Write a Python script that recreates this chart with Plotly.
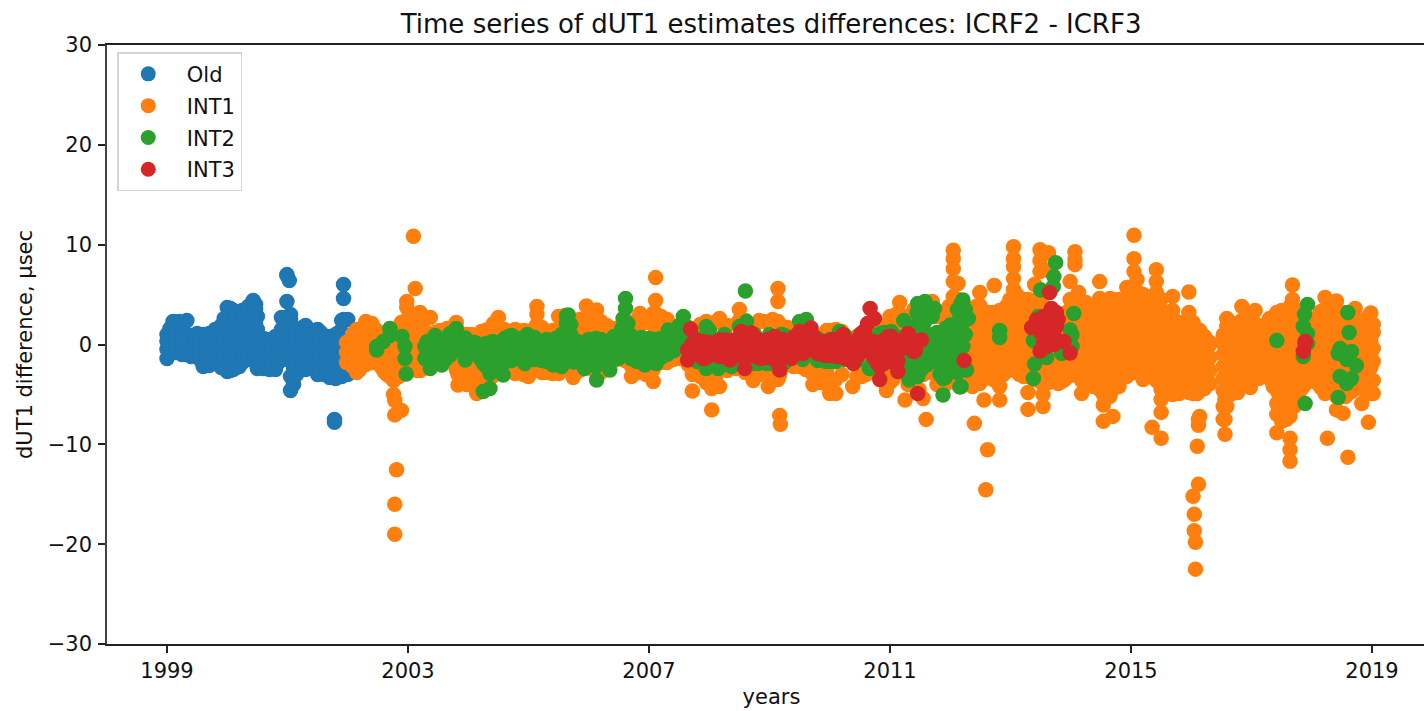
import plotly.graph_objects as go

CHART_TITLE = "Time series of dUT1 estimates differences: ICRF2 - ICRF3"
X_LABEL = "years"
Y_LABEL = "dUT1 difference, μsec"
x_ticks = [1999, 2003, 2007, 2011, 2015, 2019]
y_ticks = [-30, -20, -10, 0, 10, 20, 30]

# Each entry: (year, [dUT1 differences read at about that year])
old_cols = [
 (1999.0,[-1.4,-0.5,0.3,1.0]),(1999.1,[-0.6,0.2,1.2,1.8,2.3]),(1999.2,[-0.8,0.5,2.3]),
 (1999.33,[-1.0,0,1.0,2.4]),(1999.4,[-1.2,-0.2,0.9]),(1999.5,[-0.5,0.5,1.1]),
 (1999.6,[-2.2,-1.2,0,1.0]),(1999.7,[-2.1,-1,0.2,1.1]),(1999.8,[-1.2,0,1.5]),
 (1999.9,[-2.3,-1,0.5,1.9]),(2000.0,[-2.7,-1.2,1,2.6,3.7]),(2000.1,[-2.5,-1.3,0.5,2,3.4]),
 (2000.2,[-2.2,-0.8,1,2.5,3.2]),(2000.3,[-1,0.5,2,3.5]),(2000.43,[-0.5,1,3,4.4]),
 (2000.5,[-2.4,-1.2,-0.3,1.5,2.8]),(2000.6,[-2.4,-1.2,0,0.6]),(2000.7,[-2.5,-1,0.4]),
 (2000.8,[-2.5,-1,-0.2,0.8]),(2000.9,[-1.2,0.5,1.5,2.7]),(2000.99,[-1.5,0,1.7,4.3,6.9,7.0]),
 (2001.03,[6.4]),(2001.05,[-4.6,-3.2,-1.5,0.5,2.5,3.0]),(2001.1,[-4,-2.5,-1,1.3]),
 (2001.2,[-2,-1,-0.5]),(2001.3,[-2.5,-1.2,1.9]),(2001.4,[-2.2,-1,0.8,1.0]),
 (2001.5,[-3,-1.8,-0.5,1.5]),(2001.6,[-3,-1.5,0,0.9]),(2001.7,[-3.3,-1.8,-0.5,0.8]),
 (2001.78,[-7.5,-7.8]),(2001.8,[-3.4,-1.5,0,1.0]),(2001.9,[-3.2,-1,0.5,2.4]),
 (2001.93,[6.0,4.6,2.5]),(2002.0,[-3.0,-1.3,2.5]),
 (1999.05,[-0.8,0,0.8,1.6]),(1999.15,[-0.8,0.3,1.4,2.1]),(1999.25,[-1,0,1.2]),(1999.45,[-1,0,0.8]),
 (1999.55,[-1.5,-0.3,0.7]),(1999.65,[-1.7,-0.5,0.7]),(1999.75,[-1.6,-0.4,0.8]),(1999.85,[-1.8,-0.3,0.9]),
 (1999.95,[-2.4,-1,0.3,1.5,2.6]),(2000.05,[-2.6,-1,0,1.5,2.8,3.6]),(2000.15,[-2.3,-1,0,1.4,2.8]),
 (2000.25,[-1.8,-0.4,1.2,2.8,3.4]),(2000.35,[-1.5,-0.2,1.3,2.5,3.8]),(2000.47,[-1,0.5,2,3.5,4]),
 (2000.55,[-1.8,-0.6,0.4]),(2000.65,[-2,-0.5,0.5]),(2000.75,[-2,-0.5,0.5]),(2000.85,[-1.8,-0.4,0.7]),
 (2000.95,[-1.4,0,1,2.2]),(2001.15,[-3,-1.7,-0.5,0.5,1.3]),(2001.25,[-2,-0.5,0.8,1.7]),
 (2001.35,[-2.2,-0.8,0.5,1.5]),(2001.45,[-2,-0.8,0.5,1.4]),(2001.55,[-2.6,-1,0.4,1.2]),
 (2001.65,[-2.5,-1,0.5]),(2001.75,[-2.8,-1,0.5]),(2001.85,[-3,-1.4,0,1.2]),(2001.95,[-2.4,-0.5,1]),
]
int1_cols = [
 (2001.98,[-1.8,-0.8,0.2]),(2002.08,[-2.2,-1,0,1]),(2002.15,[-2.8,-1.5,-0.5,0.5,1.5]),
 (2002.3,[-2,-0.5,1,2.3]),(2002.4,[-1.8,-0.3,1.2,2.1]),(2002.48,[-1.5,0,1.4]),
 (2002.6,[-2.7,-1.5,-0.3,0.8]),(2002.7,[-3.2,-2,-0.8]),(2002.76,[-5.0,-3.6,-2,-0.5]),
 (2002.78,[-19,-16,-7.05,-5.6]),(2002.81,[-12.55,-3.3]),(2002.89,[-6.6,-2.5,0,1.5,2.2]),
 (2002.98,[-1,1,2.5,3.7,4.3]),(2003.09,[-2.4,-0.5,1,2.5,10.85]),(2003.12,[3,5.6]),
 (2003.2,[-2.6,-1,0.5,2,3.2]),(2003.3,[-2,-0.5,1.2,2.6]),(2003.37,[-0.5,1,2.7]),
 (2003.53,[0,1.4]),(2003.65,[-1,0.5,1.6]),(2003.8,[-2.5,-1.4,1,2.2]),
 (2003.83,[-4.05,-3]),(2003.97,[-4,-2.8,-1.4,1]),(2004.14,[-4.9,-3.5,-2,-0.5,0.8]),
 (2004.3,[-3,0.5,1.45]),(2004.42,[-2.5,1,2.1]),(2004.5,[-2,1.5,2.7]),
 (2004.72,[-2.7,1.2]),(2004.85,[-2.7,-1.5,1.3]),(2005.0,[-3.2,-2,1.3]),
 (2005.14,[-2.5,1,2,3,3.8]),(2005.3,[-2.8,1.3]),(2005.5,[-2.9,1.5,2.8]),
 (2005.6,[-2.5,2.9]),(2005.74,[-3.3,-2,1.4]),(2005.96,[1.2,2.5,3.85]),
 (2006.13,[1.3,2.4,3.45]),(2006.3,[-2,1.2,1.9]),(2006.45,[-1.5,1.6]),
 (2006.71,[-3.2,-2.2,2]),(2006.85,[-2.4,2,3.1]),(2007.07,[-3.7,-2.5,2,3.1]),
 (2007.11,[1.5,3.1,4.4,6.7]),(2007.2,[-1.8,2.8]),(2007.4,[-1.5]),
 (2007.72,[-4.65,-3]),(2007.85,[-3.2,-2.5,2]),(2007.95,[-3.8,2.3]),
 (2008.04,[-6.55,-4.4,-3]),(2008.17,[-4.2,2.6]),(2008.5,[2.4,3.5]),
 (2008.73,[-3.6,-2.6,1.6]),(2008.9,[-3,2.3]),(2008.98,[-4.2,-3]),
 (2009.14,[-3.5,2.3,4.3,5.6]),(2009.17,[-7.1,-3]),(2009.18,[-8]),
 (2009.3,[-2,1.7]),(2009.5,[-2.2]),(2009.72,[-4,-3,-2]),(2009.85,[-3.8,-2.5]),
 (2010.0,[-4.9,-3.5,1.4]),(2010.1,[-4.9,-3.5,1.5]),(2010.38,[-4.2]),(2010.53,[-3.2,-2]),
 (2010.66,[-1.5,1]),(2010.94,[-4.6,-3,-1,2]),(2011.05,[-3.5,1.8]),
 (2011.16,[-2,1.5,3,4.2]),(2011.25,[-5.55,-3]),(2011.4,[-2.5,1.5,3.5]),
 (2011.55,[-5.4,-3,4]),(2011.6,[-7.5]),(2011.7,[-2.8,1,3,4.3]),(2011.85,[-2.5,0,3]),
 (2011.98,[-2.5,0.5,2,3.8]),(2012.05,[-2,0,2,3.5,4.8,6.3,7.6,8.6,9.45]),
 (2012.13,[-4,-3,-1.5,0,1.5,3,4.5,6.1]),
 (2012.25,[-3.9,-2.6,-1.3,0,1.3,2.6,3.6]),(2012.37,[-4.2,-3,-1.7,-0.4,0.9,2.2,3.6]),
 (2012.4,[-7.9]),(2012.49,[-3.9,-2.6,-1.3,0,1.3,2.6,3.9,5.2]),
 (2012.56,[-5.55,-3.4,-2,-0.7,0.7,2,3.3]),(2012.59,[-14.55]),(2012.62,[-10.55]),
 (2012.71,[-3.5,-2.2,-0.9,0.4,1.7,3.2]),(2012.73,[5.9]),
 (2012.82,[-5.55,-4.2,-2.9,-1.6,-0.3,1,2.3,3.4]),(2012.93,[-2.7,-1.4,-0.1,1.2,2.5,3.8]),
 (2013.05,[-2.2,-0.9,0.4,1.7,3,4.5,5.5,6.6,7.8,8.6,9.8]),
 (2013.15,[-3,-1.7,-0.4,0.9,2.2,3.5,4.6]),(2013.29,[-6.5,-4.8,-3.2,-1.9,-0.6,0.7,2,3.3,4.5]),
 (2013.4,[-3.5,-2.2,-0.9,0.4,1.7,3,4.2,6]),(2013.49,[-3.7,-2.4,-1.1,0.2,1.5,2.8,4.2,5.5,7.3,8.4,9.5]),
 (2013.54,[-6.2,-5,-3.9,-2.6,-1.3,0,1.3,2.6,3.9]),(2013.63,[-3.8,-2.5,-1.2,0.1,1.4,2.7,7.4,9.2]),
 (2013.79,[-3.9,-2.6,-1.3,0,1.3,2.5]),(2013.9,[-3.5,-2.2,-0.9,0.4,1.7,3]),
 (2013.99,[-3.05,-1.8,-0.5,0.8,2.1,3.4,4.5,6.3]),(2014.07,[-3,-1.7,-0.4,0.9,2.2,3.5,8,8.5,9.3]),
 (2014.13,[-3.2,-2,-0.7,0.6,1.9,3.2,4.5,5.2]),(2014.18,[-4.9,-3.6,-2.3,-1,0.3,1.6,2.9]),
 (2014.3,[-3.9,-2.6,-1.3,0,1.3,2.6,3.6]),(2014.37,[-4.2,-2.9,-1.6,-0.3,1,2.3,3.8]),
 (2014.48,[-4.5,-3.2,-1.9,-0.6,0.7,2,3.3,4.6,6.3]),(2014.54,[-7.7,-6.05,-5,-3.7,-2.4,-1.1,0.2,1.5,2.8,4.2]),
 (2014.65,[-5.2,-3.9,-2.6,-1.3,0,1.3,2.6,3.9,4.6]),(2014.7,[-7.2,-4.5,-3.2,-1.9,-0.6,0.7,2,3.3,4.5]),
 (2014.8,[-4.2,-2.9,-1.6,-0.3,1,2.3,3.6,4.5]),(2014.93,[-3.2,-1.9,-0.6,0.7,2,3.3,4.5,5.7]),
 (2015.05,[-2.8,-1.5,-0.2,1.1,2.4,3.7,5,7.3,8.6,10.95]),(2015.1,[-2.5,-1.2,0.1,1.4,2.7,4,5.3,6.5]),
 (2015.2,[-3.5,-2.2,-0.9,0.4,1.7,3,4.3,5]),(2015.35,[-8.3,-3,-1.7,-0.4,0.9,2.2,3.5,4.8]),
 (2015.42,[-3.6,-2.3,-1,0.3,1.6,2.9,4.2,5.2,6.3,7.5]),(2015.5,[-9.4,-6.8,-5.5,-4.5,-3.2,-1.9,-0.6,0.7,2,3.3,4.5]),
 (2015.6,[-4.6,-3.3,-2,-0.7,0.6,1.9,3.2]),(2015.69,[-5,-3.8,-2.5,-1.2,0.1,1.4,2.7,3.4,4.8]),
 (2015.8,[-4.9,-3.6,-2.3,-1,0.3,1.6,2.2]),(2015.92,[-4.4,-3.1,-1.8,-0.5,0.8,2.1]),
 (2015.96,[-4.8,-3.4,-2,-0.6,0.8,2.2,3.2,5.25]),(2016.03,[-15.2,-4.9,-3.5,-2.2,-0.9,0.4,1.7,2.2]),
 (2016.05,[-18.65,-17]),(2016.07,[-22.5,-19.8]),(2016.1,[-10.2,-4.9,-3.6,-2.3,-1,0.3,1.5]),
 (2016.12,[-14,-8.1,-7.5]),(2016.14,[-7.2,-4.6,-3.3,-2,-0.7,0.6,1.4]),
 (2016.22,[-4.4,-3.1,-1.8,-0.5,0.8]),(2016.31,[-3.9,-2.6,-1.3,0,0.2]),
 (2016.53,[-7.5,-6.2,-4.6,-3.4,-2.2,-1,0.1,0.95]),(2016.56,[-9,-7.5,-5.5]),
 (2016.59,[-6.2,-4.6,-3.3,-2,-0.7,0.6,1.8,2.6]),(2016.7,[-4.4,-3.1,-1.8,-0.5,0.8,2.1]),
 (2016.84,[-4.2,-2.9,-1.6,-0.3,1,2.4,3.8]),(2016.98,[-4.3,-3,-1.7,-0.4,0.9,1.8]),
 (2017.06,[-3.1,-1.8,-0.5,0.8,2.1,3.4]),(2017.18,[-3,-1.7,-0.4,0.9,1.8]),
 (2017.3,[-3.4,-2.1,-0.8,0.5,1.8,2.6]),(2017.42,[-8.85,-7,-5.9,-4.6,-3.3,-2,-0.7,0.6,1.9,3.2]),
 (2017.5,[-7.7,-6.3,-5,-3.7,-2.4,-1.1,0.2,1.5,2.8,3.4]),(2017.58,[-7.5,-6.2,-4.9,-3.6,-2.3,-1,0.3,1.6,2.9]),
 (2017.64,[-11.7,-10.55,-9.4,-7.2,-5.9,-4.6,-3.3,-2,-0.7,0.6,1.9,3.2,3.8]),(2017.68,[4.5,5.95]),
 (2017.76,[-5.5,-4.2,-2.9,-1.6,-0.3,1,2.3,3.4]),(2017.86,[-4.2,-2.9,-1.6,-0.3,1,2.3]),
 (2017.97,[-3.5,-2.2,-0.9,0.4,1.7,2.5]),(2018.08,[-3.8,-2.5,-1.2,0.1,1.4,2.7]),
 (2018.22,[-4.9,-3.6,-2.3,-1,0.3,1.6,3.2,4.7]),(2018.26,[-9.4]),(2018.32,[-4.5,-3.2,-1.9,-0.6,0.7,2,3.2]),
 (2018.41,[-6.55,-5.2,-3.9,-2.6,-1.3,0,1.3,2.6,4.35]),(2018.52,[-6.9,-5.2,-3.9,-2.6,-1.3,0,1.3,2.6,3.2]),
 (2018.6,[-11.3,-4.9,-3.6,-2.3,-1,0.3,1.6,3]),(2018.72,[-4.4,-3.1,-1.8,-0.5,0.8,2.1,3.6]),
 (2018.83,[-5.9,-4.2,-2.9,-1.6,-0.3,1,1.8]),(2018.94,[-7.8,-4.6,-3.3,-2,-0.7,0.6,1.9,2.8]),
 (2018.98,[-4.9,-3.6,-2.3,-1,0.3,1.6,3.15]),(2019.02,[-4.9,-3.6,-1.7,-0.4,1.2,2]),
 (2012.31,[-3.4,-2.1,-0.8,0.5,1.8,3]),(2012.43,[-3.6,-2.3,-1,0.3,1.6,2.9,3.8]),(2012.65,[-3,-1.6,-0.2,1,2.4,3.2]),
 (2012.77,[-3.5,-2.2,-0.9,0.4,1.7,3]),(2012.88,[-3,-1.8,-0.5,0.8,2,3.4]),(2012.99,[-2.2,-1,0.3,1.6,2.9,4.5]),
 (2013.1,[-2.7,-1.4,-0.1,1.2,2.5,3.8,5]),(2013.22,[-3.2,-2,-0.7,0.6,1.9,3.2,4.5]),(2013.35,[-3.3,-2,-0.7,0.6,1.9,3.2,4.4]),
 (2013.72,[-3.6,-2.3,-1,0.3,1.6,2.9]),(2013.85,[-3.7,-2.4,-1.1,0.2,1.5,2.6]),(2013.95,[-3.2,-1.9,-0.6,0.7,2,3.3]),
 (2014.25,[-3.4,-2.1,-0.8,0.5,1.8,3.1,4.2]),(2014.43,[-4,-2.7,-1.4,-0.1,1.2,2.5,3.8]),
 (2016.65,[-5,-3.7,-2.4,-1.1,0.2,1.5]),(2016.77,[-4.8,-3.5,-2.2,-0.9,0.4,1.7]),(2016.91,[-3.8,-2.5,-1.2,0.1,1.4,2.7]),
 (2017.12,[-3.4,-2.1,-0.8,0.5,1.7]),(2017.24,[-3.1,-1.8,-0.5,0.8,2]),(2017.36,[-4.2,-2.9,-1.6,-0.3,1,2.3]),
 (2017.46,[-5,-3.7,-2.4,-1.1,0.2,1.5,3]),(2017.54,[-6,-4.7,-3.4,-2.1,-0.8,0.5,1.8,3.1]),(2017.71,[-6.2,-4.9,-3.6,-2.3,-1,0.3,1.6,2.9]),
 (2017.81,[-4.6,-3.3,-2,-0.7,0.6,1.9,3.2]),(2017.92,[-3.8,-2.5,-1.2,0.1,1.4,2.6]),(2018.02,[-3.6,-2.3,-1,0.3,1.6]),
 (2018.15,[-4.3,-3,-1.7,-0.4,0.9,2.2,3.3]),(2018.28,[-4,-2.7,-1.4,-0.1,1.2,2.5,3.6]),(2018.37,[-4.8,-3.5,-2.2,-0.9,0.4,1.7,3]),
 (2018.47,[-5,-3.7,-2.4,-1.1,0.2,1.5,2.8]),(2018.56,[-5.2,-3.9,-2.6,-1.3,0,1.3,2.6]),(2018.66,[-4.7,-3.4,-2.1,-0.8,0.5,1.8,3.1]),
 (2018.78,[-4.2,-2.9,-1.6,-0.3,1,2.3]),(2018.89,[-4.7,-3.4,-2.1,-0.8,0.5,1.8]),
 (2002.2,[-2.5,-1,0.2,1.2]),(2002.35,[-1.6,-0.2,1.6]),(2002.55,[-2.2,-1,0.2]),(2002.65,[-3,-1.8,-0.6]),
 (2002.85,[-3.2,-1.8,-0.5]),(2002.93,[-2.7,-1.2,0.5,1.8]),(2003.03,[-2.5,-1,0.5,2.8]),(2003.15,[-2.6,-1,0.6,2.5]),
 (2003.25,[-2.4,-0.8,0.8,2.2]),(2003.45,[-1.6,0,1.2]),(2003.72,[-1.2,0.4,1.5]),(2003.9,[-3.2,-2]),
 (2004.05,[-3.5,-2.5,1]),(2004.22,[-3.6,1.3]),(2004.4,[-3.2,1.4]),(2004.6,[-2.4,1.5]),(2004.78,[-2.9,1.5]),
 (2004.92,[-3,1.4]),(2005.08,[-2.6,1.5]),(2005.22,[-2.8,1.7]),(2005.4,[-2.9,1.4]),(2005.85,[-2.6,1.6,2.5]),
 (2006.05,[-2.4,1.2,2]),(2006.2,[-2.8,1.5,2.3]),(2006.6,[-1.6,1.5]),(2006.8,[-2.8,2.5]),(2006.95,[-3,2.2]),
 (2007.3,[-1.8,2.5]),(2007.5,[-1.4,1.5]),(2007.65,[-2,1.3]),(2007.78,[-2.8,1.5]),(2008.1,[-3.5,2.2]),
 (2008.3,[-2.6,1.9]),(2008.45,[-2.4,2]),(2008.6,[-2.8,2.4]),(2008.83,[-3,2.4]),(2009.05,[-3.2,2.5]),
 (2009.4,[-2.2,1.6]),(2009.6,[-2.5,1.5]),(2009.8,[-3.5,0.8]),(2009.95,[-4,-2.5,1.4]),(2010.2,[-3,1.3]),
 (2010.45,[-3.2,0.8]),(2010.6,[-3,0.9]),(2010.85,[-3.3,1.5]),(2011.0,[-3.8,2.8]),(2011.1,[-2.5,3]),
 (2011.3,[-4,-2.8,2.8]),(2011.48,[-4.5,3.6]),(2011.78,[-4,-2.8,2.8]),(2011.92,[-4,3]),
]
int2_cols = [
 (2002.48,[-0.55,-0.2]),(2002.59,[0.3]),(2002.7,[0.9,1.6]),(2002.9,[0.8]),
 (2002.95,[-1.4,-0.2]),(2002.97,[-2.95]),(2003.28,[-1.4,-0.2]),(2003.37,[-2.4]),
 (2003.45,[0.9]),(2003.56,[-2.05]),(2003.7,[-1.05,1.1]),(2003.8,[1.6]),(2003.95,[-1.55,0.65]),
 (2004.14,[0.1]),(2004.25,[-4.7,-1.9,-0.5]),(2004.36,[-4.4,-2.9]),(2004.45,[-0.3]),
 (2004.58,[-3.05,-1]),(2004.67,[-0.8,0.8]),(2004.8,[-0.2]),(2004.94,[-1.9,-0.5]),
 (2005.02,[0.8,-0.8]),(2005.2,[0.1,-1]),(2005.35,[-0.5]),(2005.41,[-2.05]),(2005.55,[-2.2,0]),
 (2005.63,[1.1,2.1,2.85]),(2005.66,[2.95,0]),(2005.75,[-1.75]),(2005.93,[-2.4,-0.8]),
 (2006.07,[0.1,-1]),(2006.13,[-3.55,-1.5]),(2006.24,[0,-1]),(2006.35,[-2.55,-0.8]),
 (2006.49,[-1.4]),(2006.57,[0.8,2.6]),(2006.61,[3.6,4.6]),(2006.65,[2.1,0.5]),
 (2006.74,[-0.9]),(2006.93,[-2.05,-0.5,0.5]),(2007.05,[0.45,-1]),(2007.12,[-1.9]),
 (2007.32,[1.45,-0.5]),(2007.5,[1.9,0]),(2007.57,[2.8]),(2007.95,[1.8,-2.4]),
 (2008.15,[-2.4]),(2008.37,[-2.2]),(2008.6,[5.35]),(2008.62,[2.3]),(2008.81,[-1.9]),
 (2008.95,[-1.9]),(2009.2,[1]),(2009.5,[2.3]),(2009.61,[2.5]),(2009.94,[-1.7]),
 (2010.1,[-1.7]),(2010.16,[1.3]),(2010.66,[-2.4]),(2010.83,[1.1]),(2011.02,[1.3]),
 (2011.23,[2.4]),(2011.32,[-3.55,-2.5]),(2011.46,[-3.2,4.1]),(2011.38,[-2.55]),
 (2011.58,[4.3,2.3,0,-1]),(2011.65,[0.8]),(2011.74,[3.6]),(2011.83,[-0.5,-2,-3]),
 (2011.88,[-5.05,-3.4,-1.9,0.8]),(2012.0,[1.95,-0.9,0.45]),(2012.16,[-4.25,-2.5,3]),
 (2012.21,[4.45,2.2,-0.2]),(2012.27,[2.7,-2.55]),(2012.18,[-4.2,4.1,3.1]),(2012.3,[2.6]),
 (2012.82,[0.7,1.4]),(2013.38,[-3.4,0.4]),(2013.4,[-1.95]),(2013.46,[2.8]),(2013.5,[5.45]),
 (2013.6,[-1.3]),(2013.71,[5.8]),(2013.72,[6.8]),(2013.75,[8.2]),(2013.85,[-0.9]),
 (2013.99,[1.45]),(2014.02,[-0.2,0.95]),(2014.05,[3.1]),
 (2017.42,[0.4]),(2017.86,[-1.2,1.8]),(2017.88,[3]),(2017.89,[-5.9]),(2017.93,[0.1,1.1,4]),
 (2018.44,[-5.3,-0.9]),(2018.47,[-3.2,-0.4]),(2018.58,[-3.9,-1.5]),(2018.6,[3.2]),
 (2018.62,[1.2]),(2018.66,[-3.4,-0.7]),(2018.74,[-2.1]),
 (2003.32,[-0.8,0.3]),(2003.5,[-1.2,0]),(2003.62,[-1.5,-0.3,0.6]),(2003.75,[-0.2,0.8]),(2003.88,[-0.6,0.4]),
 (2004.0,[-1,0]),(2004.1,[-0.8,0.2]),(2004.2,[-1.4,-0.2]),(2004.3,[-2.2,-1,0.1]),(2004.4,[-1.8,-0.6,0.3]),
 (2004.5,[-2.1,-1,0.2]),(2004.6,[-1.8,-0.5,0.6]),(2004.72,[-1.6,-0.3,0.9]),(2004.85,[-1.4,-0.4,0.6]),
 (2004.98,[-1.2,0,1]),(2005.1,[-1.5,-0.4,0.7]),(2005.22,[-1.6,-0.2]),(2005.3,[-1.7,-0.6,0.5]),(2005.45,[-1.6,-0.5,0.6]),
 (2005.55,[-1,1]),(2005.7,[-1.5,-0.5,1,2]),(2005.82,[-1.7,-0.6,0.3]),(2005.9,[-1.2,-0.2]),(2006.0,[-1.6,-0.5,0.5]),
 (2006.12,[-2.2,-0.6,0.6]),(2006.2,[-1.9,-0.3,0.5]),(2006.3,[-1.7,-0.6,0.2]),(2006.42,[-1.2,-0.2,0.8]),
 (2006.55,[-0.9,0,1.6]),(2006.7,[-1.4,-0.2,0.9]),(2006.8,[-1.7,-0.6,0.4]),(2006.88,[-1.5,-0.4,0.7]),
 (2007.0,[-1.7,-0.6,0.6]),(2007.1,[-1.3,-0.2,0.5]),(2007.2,[-1.3,-0.2,0.6]),(2007.3,[-1,0.3]),(2007.42,[-0.6,0.6]),
 (2007.55,[0.6,1.7]),(2007.65,[0.8,1.7]),(2007.8,[-1.7,0.6]),(2008.0,[-2,1.4]),(2008.25,[-2,1]),(2008.5,[-1.8,1.8]),
 (2008.75,[-1.9,1]),(2009.0,[-1.9,1]),(2009.25,[-1.8,0.9]),(2009.55,[-1.5,2.0]),(2009.8,[-1.6,0.6]),(2010.0,[-1.7,0.5]),
 (2010.25,[-1.5,0.9]),(2010.45,[-1.6]),(2010.7,[-2,-1,0.5]),(2010.9,[-0.5,1.2]),(2011.1,[-2,0.8]),
 (2011.3,[-3,-2,-1,0,1]),(2011.38,[-2.8,-1.6,-0.4,0.8]),(2011.45,[-3,-1.8,-0.6,0.6,2,3.2]),(2011.52,[-2.5,-1.3,-0.1,1,3.4]),
 (2011.62,[-2,-0.8,1,3.7]),(2011.7,[-1.5,-0.3,0.9,2.8]),(2011.78,[-1,0,1.2]),(2011.92,[-3.3,-1.8,-0.6,0.6,1.6]),
 (2012.05,[-2.5,-1.2]),(2012.12,[-2.8,-1.6,-0.4,1,2.2,3.5]),(2012.25,[1,3.5]),
]
int3_cols = [
 (2007.64,[-0.55,-1.55]),(2007.69,[1.55]),(2007.9,[-1.4,0.3]),(2008.04,[-0.9]),(2008.17,[-1.2,0.45]),
 (2008.28,[0.45]),(2008.34,[-1.55]),(2008.53,[1.3,-0.3]),(2008.59,[-2.4]),(2008.7,[1.15,-0.6]),
 (2008.89,[-0.8]),(2009.09,[0.8,-0.9]),(2009.17,[-2.55]),(2009.33,[0.3]),(2009.36,[-1.4]),
 (2009.5,[1.3]),(2009.64,[-0.2]),(2009.69,[1.65]),(2009.89,[-0.2]),(2009.94,[-1.1]),
 (2010.11,[0.2,-1.2]),(2010.22,[1]),(2010.33,[-0.6]),(2010.39,[-1.9]),(2010.52,[1.1]),
 (2010.63,[2.1]),(2010.67,[3.6]),(2010.74,[2.6]),(2010.83,[-3.5,-2.2,0]),(2011.02,[0.8,-0.6]),
 (2011.13,[-2.7,-1.7]),(2011.3,[1.1,0]),(2011.39,[-0.7]),(2011.46,[-4.9]),(2011.52,[0.45]),
 (2012.23,[-1.6]),
 (2013.35,[1.7]),(2013.43,[2.45]),(2013.49,[-0.65]),(2013.6,[1.8]),(2013.62,[0.9]),
 (2013.65,[5.2]),(2013.68,[3.6,0.1]),(2013.79,[2.5]),(2013.89,[0.3]),(2013.99,[-0.85]),
 (2017.86,[-0.7]),(2017.89,[0.1,0.3]),
 (2007.72,[-1,0.1]),(2007.8,[-0.7,0.4]),(2007.95,[-1.3,-0.4]),(2008.0,[-1.1,0.2]),(2008.1,[-0.6,0.2]),
 (2008.22,[-1.2,-0.3,0.4]),(2008.4,[-1.2,-0.2,0.4]),(2008.47,[-0.8,0.6]),(2008.6,[-1.4,-0.3,0.7]),(2008.65,[-0.8]),
 (2008.78,[-1.2,-0.2,0.6]),(2008.85,[-1.4,0]),(2008.96,[-1.3,-0.3,0.5]),(2009.03,[-1.3,0]),(2009.12,[-1.7,-0.3]),
 (2009.22,[-1.3,-0.2,0.5]),(2009.28,[-1.1,0.2]),(2009.42,[-1,0,0.8]),(2009.55,[-0.9,0,1]),(2009.6,[-0.5,1.2]),
 (2009.73,[-0.6,0.8]),(2009.8,[-0.9,0]),(2009.88,[-1,0.3]),(2010.0,[-1.1,-0.2,0.4]),(2010.05,[-0.8,0.5]),
 (2010.18,[-1.2,-0.2,0.7]),(2010.27,[-1.4,-0.3,0.3]),(2010.42,[-1.4,-0.6,0]),(2010.48,[-1,0.6]),(2010.58,[-0.3,1.4]),
 (2010.72,[-1.2,-0.2,0.3]),(2010.78,[-1.8,-0.6,0.2]),(2010.9,[-1.9,-0.6,0.4]),(2010.97,[-1.6,-0.2,0.8]),
 (2011.05,[-1.7,-0.6,0.4]),(2011.1,[-1.2,0]),(2011.2,[-0.4]),(2011.25,[-0.2,0.6]),(2011.35,[-0.2,0.6]),(2011.42,[-0.6,0.3]),
 (2013.5,[1.2,2.2]),(2013.55,[0.2,1.2,2.8]),(2013.6,[-0.2,0.3]),(2013.72,[0,1,2.8]),(2013.76,[1.8,3.2]),
]

def expand(cols):
    return [x for x, ys in cols for _ in ys], [y for _, ys in cols for y in ys]

series = [("Old", old_cols, "#1f77b4"), ("INT1", int1_cols, "#ff7f0e"),
          ("INT2", int2_cols, "#2ca02c"), ("INT3", int3_cols, "#d62728")]

fig = go.Figure()
for name, cols, color in series:
    xs, ys = expand(cols)
    fig.add_trace(go.Scatter(x=xs, y=ys, mode="markers", name=name, legendgroup=name,
                             marker=dict(size=15.5, color=color, line=dict(width=0))))

FONT = "DejaVu Sans"
fig.update_layout(
    width=1424, height=711, plot_bgcolor="white", paper_bgcolor="white",
    margin=dict(l=107, r=0, t=44.5, b=67, autoexpand=False),
    font=dict(family=FONT, size=21, color="#111"),
    title=dict(text=CHART_TITLE, font=dict(size=26, family=FONT, color="#111"), x=0.5415, xanchor="center",
               y=0.967, yanchor="middle"),
    legend=dict(x=0.0078, y=0.988, xanchor="left", yanchor="top", bgcolor="rgba(255,255,255,0.9)",
                bordercolor="#d5d5d5", borderwidth=1.5, font=dict(size=21), itemsizing="constant",
                itemwidth=58, tracegroupgap=1.5),
    xaxis=dict(range=[1998.004, 2019.863], tickmode="array", tickvals=x_ticks,
               ticktext=[str(v) for v in x_ticks], showgrid=False, zeroline=False, showline=True,
               mirror=True, linecolor="#222", linewidth=1.5, ticks="outside", ticklen=7, tickwidth=1.5,
               tickcolor="#222", tickfont=dict(size=21), title=dict(text=X_LABEL, standoff=7, font=dict(size=21))),
    yaxis=dict(range=[-30, 30], tickmode="array", tickvals=y_ticks, ticklabelstandoff=2,
               ticktext=[str(v).replace("-", "−") for v in y_ticks], showgrid=False, zeroline=False,
               showline=True, linecolor="#444", linewidth=1.5, ticks="outside", ticklen=7, tickwidth=1.5,
               tickcolor="#222", tickfont=dict(size=21), title=dict(text=Y_LABEL, standoff=9, font=dict(size=21))),
)
post = """document.body.style.margin='0';
document.querySelectorAll('.legend .legendpoints path').forEach(function(p){
  var t = p.getAttribute('transform') || '';
  p.setAttribute('transform', t + ' translate(-4.5,0) scale(1.25)');
});
document.querySelectorAll('.xtitle').forEach(function(t){
  t.setAttribute('transform', 'translate(6,0)');
});"""
fig.write_html("out.html", post_script=post, config={"displayModeBar": False})
